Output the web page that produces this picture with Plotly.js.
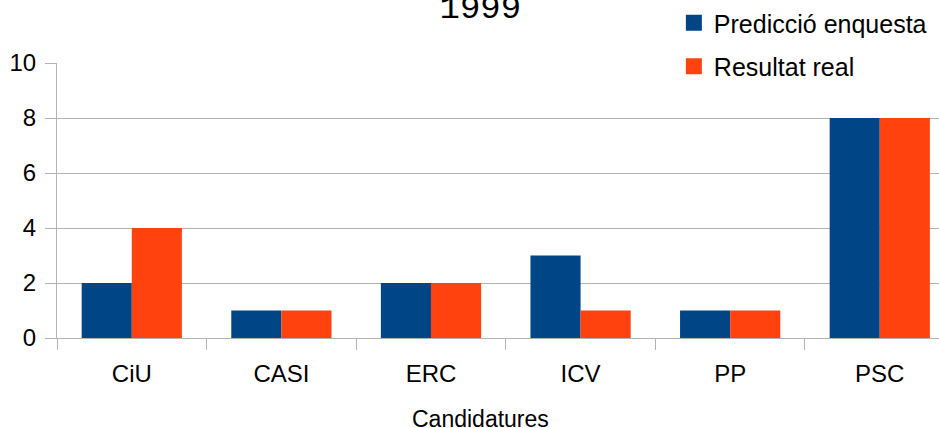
<!DOCTYPE html>
<html>
<head>
<meta charset="utf-8">
<script src="https://cdn.plot.ly/plotly-3.0.1.min.js"></script>
<style>
html,body{margin:0;padding:0;background:#fff;overflow:hidden;}
#chart{width:939px;height:428px;}
</style>
</head>
<body>
<div id="chart"></div>
<script>
const categories = ["CiU", "CASI", "ERC", "ICV", "PP", "PSC"];
const prediccio = [2, 1, 2, 3, 1, 8];
const resultat = [4, 1, 2, 1, 1, 8];
const seriesNames = ["Predicció enquesta", "Resultat real"];
const seriesColors = ["#004586", "#ff420e"];
const chartTitle = "1999";
const xTitle = "Candidatures";
const yTicks = [0, 2, 4, 6, 8, 10];

const FONT = "Liberation Sans, Arial, sans-serif";
const GRID = "#b3b3b3";

const traces = [
  {type: "bar", x: categories, y: prediccio, name: seriesNames[0],
   marker: {color: seriesColors[0]}, showlegend: false, hoverinfo: "x+y"},
  {type: "bar", x: categories, y: resultat, name: seriesNames[1],
   marker: {color: seriesColors[1]}, showlegend: false, hoverinfo: "x+y"},
  {type: "scatter", mode: "markers", x: [null], y: [null], name: seriesNames[0],
   legendgroup: "a", marker: {symbol: "square", size: 16, color: seriesColors[0]}},
  {type: "scatter", mode: "markers", x: [null], y: [null], name: seriesNames[1],
   legendgroup: "b", marker: {symbol: "square", size: 16, color: seriesColors[1]}}
];

const layout = {
  width: 939, height: 428,
  margin: {l: 57, r: 0, t: 63, b: 90, pad: 0, autoexpand: false},
  paper_bgcolor: "#fff", plot_bgcolor: "#fff",
  font: {family: FONT, color: "#000", size: 24},
  barmode: "group",
  bargap: 0.33, bargroupgap: 0,
  title: {text: chartTitle, font: {family: "Liberation Mono, DejaVu Sans Mono, monospace", size: 34, color: "#000"},
          xref: "paper", x: 0.48, xanchor: "center", yref: "container", y: 0.985, yanchor: "middle"},
  xaxis: {
    type: "category", range: [-0.5, 5.396],
    showline: true, linecolor: GRID, linewidth: 1,
    ticks: "outside", tickson: "boundaries", ticklen: 11, tickcolor: GRID, tickwidth: 1,
    tickfont: {family: FONT, size: 24, color: "#000"},
    ticklabelstandoff: 14,
    showgrid: false, zeroline: false, fixedrange: true, automargin: false
  },
  yaxis: {
    range: [0, 10], tickvals: yTicks, ticktext: yTicks.map(String),
    showline: true, linecolor: GRID, linewidth: 1,
    ticks: "outside", ticklen: 11, tickcolor: GRID, tickwidth: 1,
    tickfont: {family: FONT, size: 24, color: "#000"},
    ticklabelstandoff: 4,
    showgrid: true, gridcolor: GRID, gridwidth: 1,
    zeroline: true, zerolinecolor: GRID, zerolinewidth: 1, fixedrange: true, automargin: false
  },
  annotations: [{
    text: xTitle, xref: "paper", yref: "paper", x: 0.48, xanchor: "center",
    y: -0.295, yanchor: "middle", showarrow: false,
    font: {family: FONT, size: 23, color: "#000"}
  }],
  showlegend: true,
  legend: {
    x: 0.6994, xanchor: "left", y: 1.229, yanchor: "top",
    bgcolor: "rgba(0,0,0,0)", borderwidth: 0,
    font: {family: FONT, size: 25, color: "#000"},
    tracegroupgap: 8, itemwidth: 30, traceorder: "grouped"
  }
};

Plotly.newPlot("chart", traces, layout, {displayModeBar: false, staticPlot: true});
</script>
</body>
</html>
